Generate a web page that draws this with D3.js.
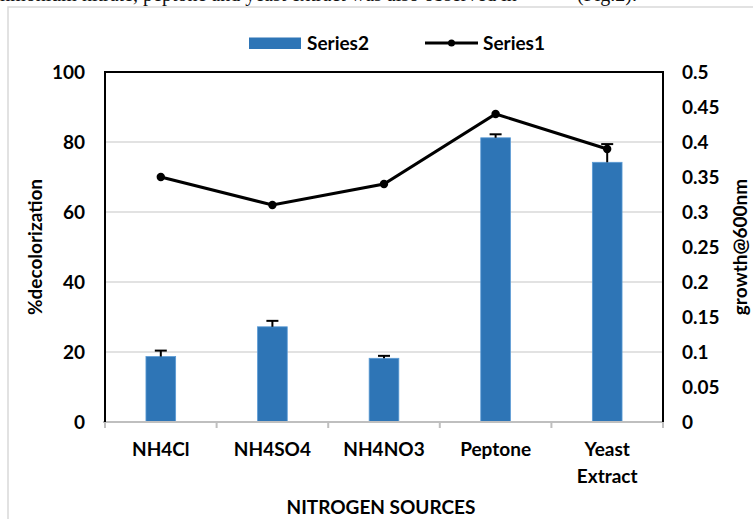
<!DOCTYPE html>
<html>
<head>
<meta charset="utf-8">
<script src="https://cdn.jsdelivr.net/npm/d3@7"></script>
<style>
  body { margin: 0; background: #fff; }
  svg { display: block; }
  .lbl { font-family: Lato, "Open Sans", sans-serif; font-weight: bold; fill: #000; }
  .body { font-family: "Liberation Serif", serif; font-size: 20px; fill: #111; }
</style>
</head>
<body>
<svg id="chart" width="753" height="519"></svg>
<script>
var categories = ["NH4Cl", "NH4SO4", "NH4NO3", "Peptone", "Yeast Extract"];
var tickLines = [["NH4Cl"], ["NH4SO4"], ["NH4NO3"], ["Peptone"], ["Yeast", "Extract"]];
var decolorization = [18.7, 27.2, 18.2, 81.2, 74.2];   // Series2, left axis
var decolorizationErr = [1.7, 1.7, 0.7, 1.0, 5.2];
var growth = [0.35, 0.31, 0.34, 0.44, 0.39];          // Series1, right axis
var leftTicks = [0, 20, 40, 60, 80, 100];
var rightTicks = [0, 0.05, 0.1, 0.15, 0.2, 0.25, 0.3, 0.35, 0.4, 0.45, 0.5];

var pLeft = 105, pRight = 663, pTop = 72, pBottom = 422;
var fs = 19;

var svg = d3.select("#chart");

// line of body text above the figure, cut by the page edge
svg.append("text").attr("class", "body")
    .attr("x", 133).attr("y", 1)
    .attr("text-anchor", "end")
    .text("ammonium nitrate");
svg.append("text").attr("class", "body")
    .attr("x", 133).attr("y", 1)
    .text(", peptone and yeast extract was also observed in");
svg.append("text").attr("class", "body")
    .attr("x", 577).attr("y", 1)
    .text("(Fig.2).");

// chart frame
svg.append("rect")
    .attr("x", 8).attr("y", 7)
    .attr("width", 800).attr("height", 540)
    .attr("fill", "#fff")
    .attr("stroke", "#d9d9d9")
    .attr("stroke-width", 1.5);

var x = d3.scaleBand().domain(categories).range([pLeft, pRight]);
var y = d3.scaleLinear().domain([0, 100]).range([pBottom, pTop]);
var y2 = d3.scaleLinear().domain([0, 0.5]).range([pBottom, pTop]);

// gridlines
svg.append("g")
    .selectAll("line")
    .data(leftTicks.filter(function(d) { return d > 0 && d < 100; }))
    .enter().append("line")
    .attr("x1", pLeft).attr("x2", pRight)
    .attr("y1", function(d) { return y(d); })
    .attr("y2", function(d) { return y(d); })
    .attr("stroke", "#d9d9d9")
    .attr("stroke-width", 1.5);

// bars
var bw = x.bandwidth() * 0.266;
svg.append("g")
    .selectAll("rect")
    .data(categories)
    .enter().append("rect")
    .attr("x", function(d) { return x(d) + x.bandwidth() / 2 - bw / 2; })
    .attr("y", function(d, i) { return y(decolorization[i]); })
    .attr("width", bw)
    .attr("height", function(d, i) { return pBottom - y(decolorization[i]); })
    .attr("fill", "#2e75b6")
    .attr("stroke", "#5b9bd5")
    .attr("stroke-width", 0.8);

// error bars (upper only)
var eb = svg.append("g").attr("stroke", "#000").attr("stroke-width", 2);
categories.forEach(function(c, i) {
    var cx = x(c) + x.bandwidth() / 2;
    var y0 = y(decolorization[i]), y1 = y(decolorization[i] + decolorizationErr[i]);
    eb.append("line").attr("x1", cx).attr("x2", cx).attr("y1", y0).attr("y2", y1);
    eb.append("line").attr("x1", cx - 6).attr("x2", cx + 6).attr("y1", y1).attr("y2", y1);
});

// bottom axis with ticks at category boundaries
var bx = svg.append("g").attr("stroke", "#bfbfbf").attr("stroke-width", 2);
bx.append("line").attr("x1", pLeft - 2).attr("x2", pRight + 1).attr("y1", pBottom).attr("y2", pBottom);
categories.concat([null]).forEach(function(c) {
    var tx = c === null ? x.range()[1] : x(c);
    bx.append("line").attr("x1", tx).attr("x2", tx).attr("y1", pBottom).attr("y2", pBottom + 6);
});

// left, top, right frame of the plot area
svg.append("path")
    .attr("d", d3.line()([[pLeft, pBottom], [pLeft, pTop], [pRight, pTop], [pRight, pBottom]]))
    .attr("fill", "none")
    .attr("stroke", "#000")
    .attr("stroke-width", 2);

// line series
svg.append("path")
    .datum(growth)
    .attr("d", d3.line()
        .x(function(d, i) { return x(categories[i]) + x.bandwidth() / 2; })
        .y(function(d) { return y2(d); }))
    .attr("fill", "none")
    .attr("stroke", "#000")
    .attr("stroke-width", 3);
svg.append("g")
    .selectAll("circle")
    .data(growth)
    .enter().append("circle")
    .attr("cx", function(d, i) { return x(categories[i]) + x.bandwidth() / 2; })
    .attr("cy", function(d) { return y2(d); })
    .attr("r", 4.2)
    .attr("fill", "#000");

// axis labels via d3 axes
var axL = svg.append("g")
    .attr("transform", "translate(" + pLeft + ",0)")
    .call(d3.axisLeft(y).tickValues(leftTicks).tickSize(0).tickPadding(20));
axL.select(".domain").remove();
axL.selectAll("text").attr("class", "lbl").style("font-size", fs + "px").attr("dy", "0.36em");

var axR = svg.append("g")
    .attr("transform", "translate(" + pRight + ",0)")
    .call(d3.axisRight(y2).tickValues(rightTicks).tickSize(0).tickPadding(19)
        .tickFormat(function(d) { return String(+d.toFixed(2)); }));
axR.select(".domain").remove();
axR.selectAll("text").attr("class", "lbl").style("font-size", fs + "px").attr("dy", "0.36em");

var axB = svg.append("g")
    .attr("transform", "translate(0," + pBottom + ")")
    .call(d3.axisBottom(x).tickSize(0).tickFormat(""));
axB.select(".domain").remove();
axB.selectAll(".tick text").each(function(d, i) {
    var t = d3.select(this).attr("class", "lbl").style("font-size", fs + "px").attr("y", 0).attr("dy", null);
    tickLines[i].forEach(function(s, k) {
        t.append("tspan").attr("x", 0).attr("y", 34 + k * 27).text(s);
    });
});

// axis titles
svg.append("text").attr("class", "lbl")
    .attr("transform", "translate(42," + (pTop + pBottom) / 2 + ") rotate(-90)")
    .attr("text-anchor", "middle")
    .style("font-size", fs + "px")
    .text("%decolorization");
svg.append("text").attr("class", "lbl")
    .attr("transform", "translate(747," + (pTop + pBottom) / 2 + ") rotate(-90)")
    .attr("text-anchor", "middle")
    .style("font-size", fs + "px")
    .text("growth@600nm");
svg.append("text").attr("class", "lbl")
    .attr("x", (pLeft + pRight) / 2 - 3).attr("y", 514)
    .attr("text-anchor", "middle")
    .style("font-size", fs + "px")
    .text("NITROGEN SOURCES");

// legend
var lg = svg.append("g");
lg.append("rect").attr("x", 249).attr("y", 37.5).attr("width", 52).attr("height", 11.5).attr("fill", "#2e75b6");
lg.append("text").attr("class", "lbl").attr("x", 307).attr("y", 50).style("font-size", fs + "px").text("Series2");
lg.append("line").attr("x1", 425).attr("x2", 478).attr("y1", 43).attr("y2", 43).attr("stroke", "#000").attr("stroke-width", 3);
lg.append("circle").attr("cx", 451.5).attr("cy", 43).attr("r", 3.5).attr("fill", "#000");
lg.append("text").attr("class", "lbl").attr("x", 483).attr("y", 50).style("font-size", fs + "px").text("Series1");
</script>
</body>
</html>
